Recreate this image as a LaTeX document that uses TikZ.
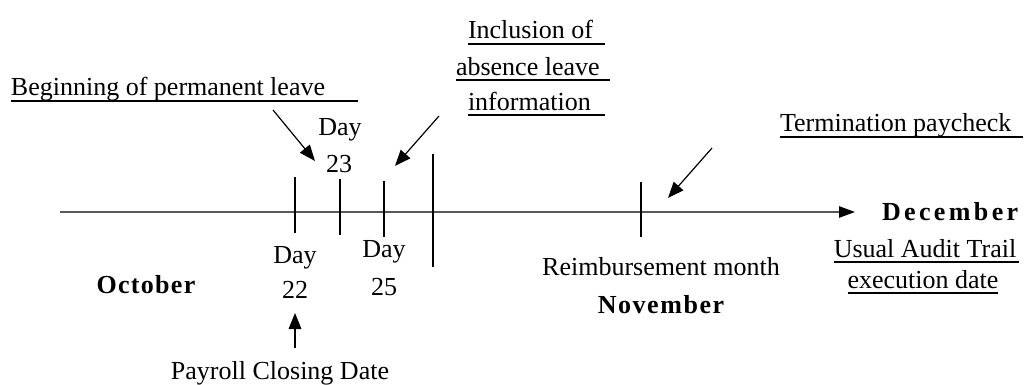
\documentclass[tikz,border=0pt]{standalone}
\usepackage{fontspec}
\setmainfont{Liberation Serif}
\usetikzlibrary{arrows.meta}
% underlined text: #1 = extra length of the rule past the end of the text
\newcommand\ulin[2]{\setbox0=\hbox{#2}\rlap{\rule[-4.2pt]{\dimexpr\wd0+#1\relax}{0.9pt}}\box0}
\begin{document}
\begin{tikzpicture}[x=0.75pt,y=-0.75pt,
  lbl/.style={inner sep=0pt, outer sep=0pt, font=\fontsize{19.5pt}{26pt}\selectfont},
  month/.style={lbl, font=\fontsize{19.5pt}{26pt}\selectfont\bfseries\addfontfeatures{LetterSpace=#1}},
  tick/.style={line width=1.5pt, black},
  axis/.style={line width=1.1pt, draw=black!65, -{Triangle[length=12pt,width=8.5pt,color=black]}},
  pointer/.style={line width=0.9pt, black, -{Triangle[length=12pt,width=9.5pt]}}]
\useasboundingbox (0,0) rectangle (1032,385);

% time axis
\coordinate (axL) at (60,212);
\coordinate (axR) at (855,212);
\draw[axis] (axL) -- (axR);

% tick marks
\coordinate (t22a) at (295,177); \coordinate (t22b) at (295,233);
\coordinate (t23a) at (340,179); \coordinate (t23b) at (340,235);
\coordinate (t25a) at (384,181); \coordinate (t25b) at (384,237);
\coordinate (tMa)  at (433,154); \coordinate (tMb)  at (433,267);
\coordinate (tNa)  at (641,182); \coordinate (tNb)  at (641,237);
\draw[tick] (t22a) -- (t22b);
\draw[tick] (t23a) -- (t23b);
\draw[tick] (t25a) -- (t25b);
\draw[tick] (tMa) -- (tMb);
\draw[tick] (tNa) -- (tNb);

% annotations
\node[lbl, anchor=base west] (begin) at (11,96) {\ulin{25pt}{Beginning of permanent leave}};
\node[lbl, anchor=base west] (incl1) at (468,39) {\ulin{9pt}{Inclusion of}};
\node[lbl, anchor=base west] (incl2) at (456,75) {\ulin{7.5pt}{absence leave}};
\node[lbl, anchor=base west] (incl3) at (468,110) {\ulin{11pt}{information}};
\node[lbl, anchor=base west] (term) at (780,132) {\ulin{9pt}{Termination paycheck}};
\node[lbl, anchor=base] (audit1) at (925,257) {\ulin{2pt}{Usual Audit Trail}};
\node[lbl, anchor=base] (audit2) at (923,288) {\ulin{0pt}{execution date}};

% day labels
\node[lbl, anchor=base] (d23a) at (340,135) {Day};
\node[lbl, anchor=base] (d23b) at (339,172) {23};
\node[lbl, anchor=base] (d22a) at (295,263) {Day};
\node[lbl, anchor=base] (d22b) at (295,298) {22};
\node[lbl, anchor=base] (d25a) at (384,257) {Day};
\node[lbl, anchor=base] (d25b) at (384,295) {25};

% months
\node[month=5, anchor=base] (oct) at (146,293) {October};
\node[lbl, anchor=base] (reimb) at (661,275) {Reimbursement month};
\node[month=6, anchor=base] (nov) at (661,313) {November};
\node[month=13, anchor=base west] (dec) at (882,220) {December};
\node[lbl, anchor=base] (payroll) at (280,379) {Payroll Closing Date};

% pointer arrows
\coordinate (p1s) at (273,110); \coordinate (p1e) at (315,161);
\coordinate (p2s) at (439,116); \coordinate (p2e) at (395,166);
\coordinate (p3s) at (712,148); \coordinate (p3e) at (668,198);
\coordinate (p4s) at (295,348); \coordinate (p4e) at (295,313);
\draw[pointer] (p1s) -- (p1e);
\draw[pointer] (p2s) -- (p2e);
\draw[pointer] (p3s) -- (p3e);
\draw[pointer] (p4s) -- (p4e);
\end{tikzpicture}
\end{document}
